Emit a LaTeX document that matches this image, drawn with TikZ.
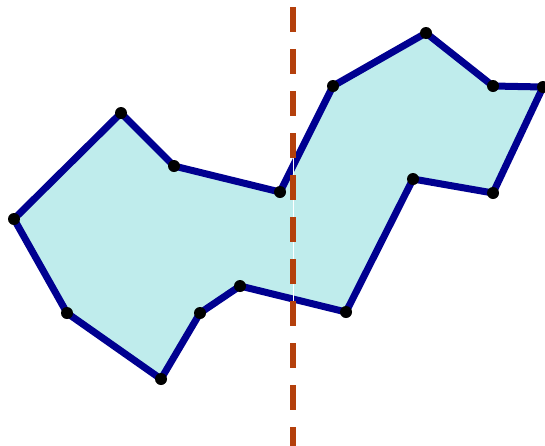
\documentclass[tikz,border=0pt]{standalone}
\definecolor{fillc}{HTML}{BFECEC}
\definecolor{edgec}{HTML}{000090}
\definecolor{dashc}{HTML}{B4400C}
\begin{document}
\begin{tikzpicture}[x=1pt,y=-1pt,
  edge/.style={draw=edgec,line width=7pt,line join=round,fill=fillc},
  vtx/.style={circle,fill=black,inner sep=0pt,minimum size=12pt}]
\useasboundingbox (0,0) rectangle (545,445);
\coordinate (p1) at (121,113);
\coordinate (p2) at (174,166);
\coordinate (p3) at (280,192);
\coordinate (p4) at (333,86);
\coordinate (p5) at (426,33);
\coordinate (p6) at (493,86);
\coordinate (p7) at (543,87);
\coordinate (p8) at (493,193);
\coordinate (p9) at (413,179);
\coordinate (p10) at (346,312);
\coordinate (p11) at (240,286);
\coordinate (p12) at (200,313);
\coordinate (p13) at (161,379);
\coordinate (p14) at (67,313);
\coordinate (p15) at (14,219);
\path[edge] (p1)--(p2)--(p3)--(p4)--(p5)--(p6)--(p7)--(p8)--(p9)--(p10)--(p11)--(p12)--(p13)--(p14)--(p15)--cycle;
\foreach \i in {1,...,15} \node[vtx] (v\i) at (p\i) {};
\coordinate (top) at (293,7);
\coordinate (bot) at (293,450);
\draw[white,line width=1pt] (top)--(bot);
\draw[dashc,line width=5.5pt,dash pattern=on 25pt off 17pt] (top)--(bot);
\end{tikzpicture}
\end{document}
